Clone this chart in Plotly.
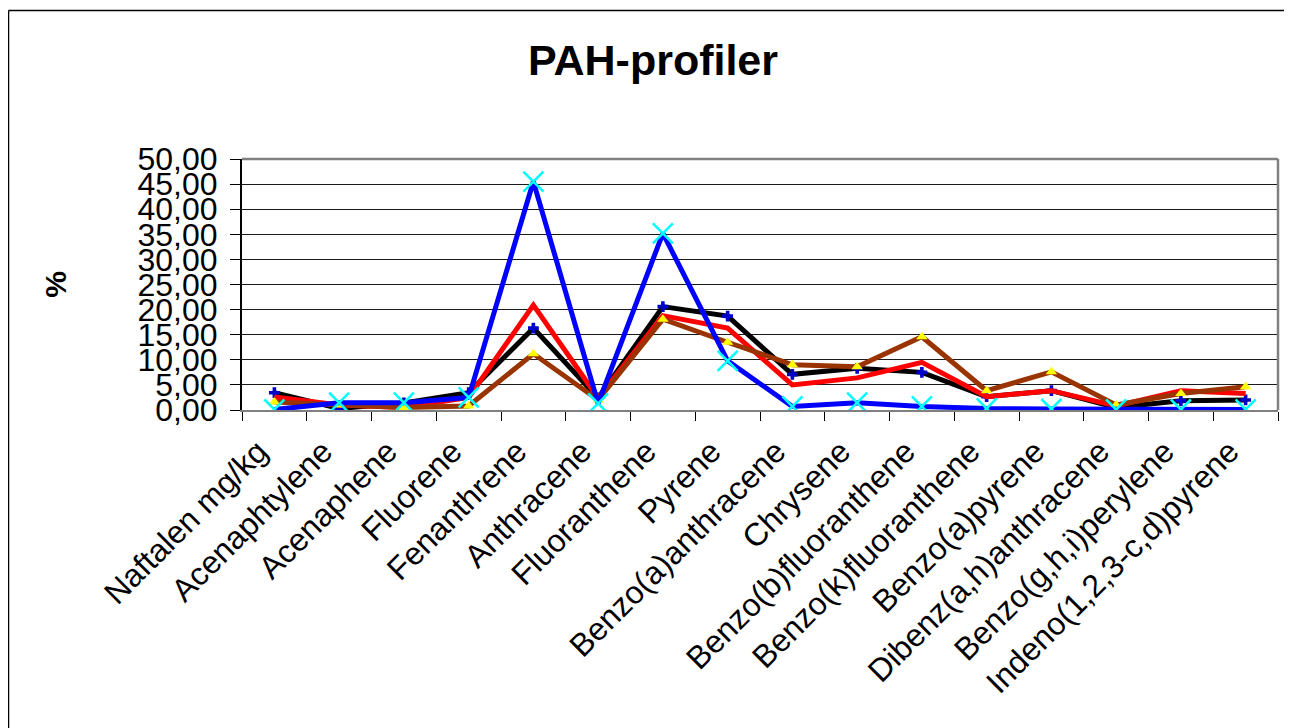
import plotly.graph_objects as go

categories = ["Naftalen mg/kg", "Acenaphtylene", "Acenaphene", "Fluorene", "Fenanthrene",
              "Anthracene", "Fluoranthene", "Pyrene", "Benzo(a)anthracene", "Chrysene",
              "Benzo(b)fluoranthene", "Benzo(k)fluoranthene", "Benzo(a)pyrene",
              "Dibenz(a,h)anthracene", "Benzo(g,h,i)perylene", "Indeno(1,2,3-c,d)pyrene"]

black_vals = [3.45, 0.3, 1.4, 3.45, 16.3, 2.4, 20.6, 18.7, 7.1, 8.3, 7.5, 2.65, 3.85, 0.5, 1.85, 2.0]
red_vals = [2.6, 1.0, 0.5, 2.5, 20.9, 2.4, 18.8, 16.3, 5.0, 6.4, 9.5, 2.65, 3.85, 0.8, 3.85, 3.3]
brown_vals = [1.6, 1.0, 0.5, 0.8, 11.2, 2.0, 18.1, 13.5, 9.0, 8.6, 14.6, 3.85, 7.6, 1.0, 3.3, 4.65]
blue_vals = [0.1, 1.45, 1.45, 2.5, 45.5, 1.3, 35.2, 9.8, 0.7, 1.45, 0.7, 0.3, 0.2, 0.1, 0.1, 0.1]

# page body has an 8px margin; figure coordinates are offset by it
OFF = 8
W, H = 1284, 720
L, R, T, B = 242 - OFF, 1278 - OFF, 159 - OFF, 410 - OFF

fig = go.Figure()
fig.add_trace(go.Scatter(x=categories, y=black_vals, mode="lines+markers",
                         line=dict(color="#000000", width=5),
                         marker=dict(symbol="cross", color="#0000CC", size=9)))
fig.add_trace(go.Scatter(x=categories, y=red_vals, mode="lines",
                         line=dict(color="#FF0000", width=5)))
fig.add_trace(go.Scatter(x=categories, y=brown_vals, mode="lines+markers",
                         line=dict(color="#993300", width=5),
                         marker=dict(symbol="triangle-up", color="#FFFF00", size=10)))
fig.add_trace(go.Scatter(x=categories, y=blue_vals, mode="lines+markers",
                         line=dict(color="#0000FF", width=5),
                         marker=dict(symbol="x-thin-open", size=20, color="#00FFFF",
                                     line=dict(color="#00FFFF", width=2.5))))

px2x = lambda p: (p - OFF - L) / (R - L)
py2y = lambda p: (B - (p - OFF)) / (B - T)

fig.update_layout(
    width=W, height=H,
    margin=dict(l=L, r=W - R, t=T, b=H - B, autoexpand=False),
    paper_bgcolor="white", plot_bgcolor="white",
    showlegend=False,
    separators=",.",
    font=dict(family="Liberation Sans, Arial, sans-serif", color="black"),
    title=dict(text="<b>PAH-profiler</b>", x=(653 - OFF) / W, xanchor="center",
               y=1 - (60 - OFF) / H, yanchor="middle", font=dict(size=43)),
    xaxis=dict(type="category", tickangle=-45, tickfont=dict(size=32),
               showgrid=False, showline=True, linecolor="#808080", linewidth=2,
               ticks="outside", tickson="boundaries", ticklen=9, tickcolor="#000000",
               ticklabelshift=-16, ticklabelstandoff=8,
               range=[-0.5, len(categories) - 0.5], mirror=False, automargin=False),
    yaxis=dict(range=[0, 50], dtick=5, tickformat=".2f", tickfont=dict(size=32),
               showgrid=True, gridcolor="#1a1a1a", gridwidth=1,
               showline=True, linecolor="#000000", linewidth=2,
               ticks="outside", ticklen=10, tickcolor="#000000",
               ticklabelstandoff=6,
               zeroline=False, automargin=False,
               title=dict(text="<b>%</b>", font=dict(size=30), standoff=62)),
    shapes=[
        dict(type="line", xref="paper", yref="paper", x0=0, x1=1, y0=1, y1=1,
             line=dict(color="#808080", width=2.5)),
        dict(type="line", xref="paper", yref="paper", x0=1, x1=1, y0=0, y1=1,
             line=dict(color="#808080", width=2.5)),
        dict(type="line", xref="paper", yref="paper", x0=px2x(8.5), x1=px2x(1300),
             y0=py2y(10.5), y1=py2y(10.5), line=dict(color="#000000", width=1.5)),
        dict(type="line", xref="paper", yref="paper", x0=px2x(8.5), x1=px2x(8.5),
             y0=py2y(10.5), y1=py2y(740), line=dict(color="#000000", width=1.5)),
    ],
)

fig.write_html("out.html")
